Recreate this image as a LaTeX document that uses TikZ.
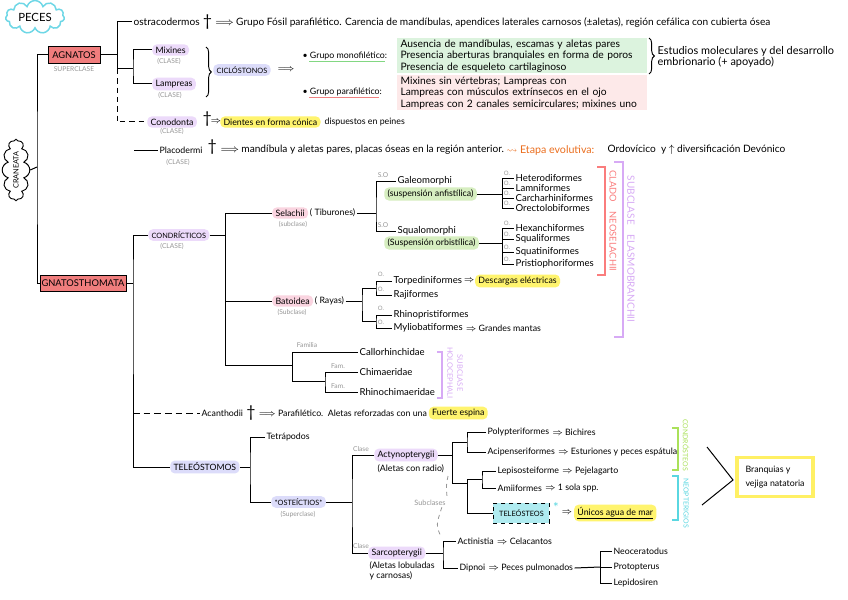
\documentclass[tikz,border=0pt]{standalone}
\usepackage{amssymb}
\usepackage{fontspec}
\setmainfont{Lato}
\usetikzlibrary{shapes.symbols,decorations.pathreplacing}
\definecolor{lav}{RGB}{236,218,250}
\definecolor{blu}{RGB}{220,220,250}
\definecolor{pnk}{RGB}{250,212,224}
\definecolor{grn}{RGB}{214,238,192}
\definecolor{yel}{RGB}{255,244,110}
\definecolor{yelb}{RGB}{255,240,100}
\definecolor{boxgrn}{RGB}{220,243,222}
\definecolor{boxpnk}{RGB}{253,233,233}
\definecolor{redbox}{RGB}{240,125,125}
\definecolor{gtxt}{RGB}{150,150,150}
\definecolor{cloudc}{RGB}{110,215,230}
\definecolor{orng}{RGB}{235,110,30}
\definecolor{neo}{RGB}{250,125,125}
\definecolor{elas}{RGB}{215,170,245}
\definecolor{condc}{RGB}{170,225,90}
\definecolor{neopc}{RGB}{90,215,225}
\definecolor{teleo}{RGB}{175,235,240}
\definecolor{ulg}{RGB}{130,215,130}
\definecolor{ulp}{RGB}{240,130,130}
\newcommand{\myimp}{$\Longrightarrow$}
\newcommand{\mydag}{{\fontsize{12}{12}\selectfont\textdagger}}
\begin{document}
\begin{tikzpicture}[x=0.75pt,y=-0.75pt,
 every node/.style={inner sep=1pt, font=\fontsize{6.6}{8}\selectfont},
 t/.style={anchor=west},
 fa/.style={font=\fontsize{7.6}{9}\selectfont},
 fb/.style={font=\fontsize{7.2}{8.5}\selectfont},
 lbl/.style={text=gtxt, font=\fontsize{5}{6}\selectfont},
 olbl/.style={text=gtxt, font=\fontsize{4.5}{5}\selectfont},
 hl/.style={fill=#1, rounded corners=3.5pt, inner xsep=2.5pt, inner ysep=1.8pt},
 ln/.style={line width=0.75pt},
 brc/.style={line width=0.7pt, decorate, decoration={brace, amplitude=4pt}},
]
\fill[white] (0,0) rectangle (848,599);
\useasboundingbox (0,0) rectangle (848,599);

% ---------- clouds and superclasses
\node[cloud, draw=cloudc, line width=1.1pt, cloud puffs=11, aspect=2, minimum width=44pt, minimum height=22pt, inner sep=0pt, font=\fontsize{8.5}{9}\selectfont] (peces) at (35,17) {PECES};
\node[cloud, draw, line width=0.7pt, cloud puffs=12, aspect=3, rotate=90, minimum width=46pt, minimum height=16pt, inner sep=0pt, font=\fontsize{5.5}{6}\selectfont] (cran) at (16,170) {CRANEATA};

\node[draw, fill=redbox, minimum width=39pt, minimum height=13pt, inner sep=1pt, font=\fontsize{7}{8}\selectfont] (agn) at (74,55) {AGNATOS};
\node[lbl] (agnl) at (74,69) {SUPERCLASE};
\node[draw, fill=redbox, minimum width=64pt, minimum height=12pt, inner sep=1pt, font=\fontsize{7}{8}\selectfont] (gna) at (83,283) {GNATOSTHOMATA};

\coordinate (tr) at (37,167);
\draw[ln] (agn.west) -| (tr) |- (gna.west);
\draw[ln] (cran.south) -- (tr);

% ---------- Agnatos
\node[t,fa] (ostra) at (132,22) {ostracodermos};
\node[t] (ostd) at (ostra.east) {\mydag};
\node[t,fa] (ostx) at (ostd.east) {\myimp\ Grupo Fósil parafilético. Carencia de mandíbulas, apendices laterales carnosos (±aletas), región cefálica con cubierta ósea};
\coordinate (a0) at (117,55);
\coordinate (a1) at (117,69);
\coordinate (a2) at (133,69);
\draw[ln] (agn.east) -- (a0);
\draw[ln] (ostra.west) -| (a1);
\draw[ln] (a1) -- (a2);
\node[t,hl=lav] (mix) at (152,50) {Mixines};
\node[lbl] (mixl) at (169,61) {(CLASE)};
\node[t,hl=lav] (lam) at (152,84) {Lampreas};
\node[lbl] (laml) at (170,95) {(CLASE)};
\draw[ln] (mix.west) -| (a2) |- (lam.west);

\node[t,hl=lav] (cono) at (147,122) {Conodonta};
\node[lbl] (conol) at (172,131) {(CLASE)};
\draw[ln, dashed, dash pattern=on 4pt off 3pt] (a1) |- (cono.west);
\node[t] (conod) at (201,119) {\mydag};
\node[t] (conoa) at (209,122) {$\Rightarrow$};
\node[t,hl=yel] (conoy) at (220,122) {Dientes en forma cónica};
\node[t] (conox) at (conoy.east) {\ dispuestos en peines};

\draw[brc] (206,47) -- (206,97);
\node[t,hl=blu, font=\fontsize{5.5}{6}\selectfont] (cicl) at (213,70) {CICLÓSTONOS};
\node[t] (cicla) at (276,70) {\myimp};

\node[t] (mono) at (301,56) {• Grupo monofilético:};
\draw[ulg, line width=1pt] ([xshift=6pt]mono.south west) -- ([xshift=-3pt]mono.south east);
\node[anchor=north west, fill=boxgrn, text width=182pt, minimum height=26pt, inner xsep=2.5pt, inner ysep=1pt, align=left, font=\fontsize{7.7}{8.6}\selectfont] (monob) at (397,38) {Ausencia de mandíbulas, escamas y aletas pares\\Presencia aberturas branquiales en forma de poros\\Presencia de esqueleto cartilaginoso};
\draw[brc] (649,38) -- (649,74);
\node[t, align=left, font=\fontsize{8.2}{7.6}\selectfont] (estu) at (656,57) {Estudios moleculares y del desarrollo\\embrionario (+ apoyado)};

\node[t] (para) at (301,92) {• Grupo parafilético:};
\draw[ulp, line width=1pt] ([xshift=6pt]para.south west) -- ([xshift=-3pt]para.south east);
\node[anchor=north west, fill=boxpnk, text width=182pt, minimum height=26pt, inner xsep=2.5pt, inner ysep=1pt, align=left, font=\fontsize{7.7}{8.6}\selectfont] (parab) at (397,75) {Mixines sin vértebras; Lampreas con\\Lampreas con músculos extrínsecos en el ojo\\Lampreas con 2 canales semicirculares; mixines uno};

% ---------- Placodermi
\coordinate (p0) at (134,150);
\node[t] (placo) at (158,150) {Placodermi};
\draw[ln] (p0) -- (placo.west);
\node[lbl] (placol) at (178,162) {(CLASE)};
\node[t] (placod) at (206,147) {\mydag};
\node[t,fa] (placox) at (219,150) {\myimp\ mandíbula y aletas pares, placas óseas en la región anterior.};
\node[t, text=orng, font=\fontsize{8}{9}\selectfont] (etapa) at (505,150) {$\rightsquigarrow$ Etapa evolutiva:};
\node[t,fa] (etapb) at (606,150) {Ordovícico\ \ y $\uparrow$ diversificación Devónico};

% ---------- Gnathostomata
\coordinate (g1) at (133,283);
\draw[ln] (gna.east) -- (g1);
\node[t,hl=lav, font=\fontsize{5.5}{6}\selectfont] (cond) at (148,235) {CONDRÍCTICOS};
\node[lbl] (condl) at (172,246) {(CLASE)};
\node[t,hl=blu, font=\fontsize{6.5}{7}\selectfont] (teleos) at (170,467) {TELEÓSTOMOS};
\draw[ln] (cond.west) -| (g1) |- (teleos.west);
\coordinate (g2) at (133,413);
\node[t] (acan) at (200,413) {Acanthodii};
\draw[ln, dashed, dash pattern=on 5pt off 3pt] (g2) -- (acan.west);
\node[t] (acand) at (acan.east) {\mydag};
\node[t] (acanx) at (acand.east) {\myimp\ Parafilético.\ \ Aletas reforzadas con una};
\node[t,hl=yel] (acany) at (acanx.east) {Fuerte espina};

% ---------- Condricticos
\coordinate (c1) at (225,235);
\coordinate (c2) at (225,365);
\coordinate (h0) at (292,365);
\draw[ln] (cond.east) -- (c1);
\node[t,hl=pnk] (sel) at (272,213) {Selachii};
\node[t] (selt) at (sel.east) {( Tiburones)};
\node[lbl] (sell) at (293,224) {(subclase)};
\draw[ln] (sel.west) -| (c2) -- (h0);
\node[t,hl=pnk] (bat) at (272,301) {Batoidea};
\node[t] (batt) at (bat.east) {( Rayas)};
\node[lbl] (batl) at (292,312) {(Subclase)};
\draw[ln] (c1) |- (bat.west);

% Selachii
\coordinate (s1) at (376,213);
\draw[ln] (selt.east) -- (s1);
\node[t,fb] (galeo) at (396,181) {Galeomorphi};
\node[t,fb] (squa) at (396,231) {Squalomorphi};
\draw[ln] (galeo.west) -| (s1) |- (squa.west);
\node[lbl] (so1) at (383,175) {S.O};
\node[lbl] (so2) at (383,225) {S.O};
\node[t,hl=grn] (anf) at (384,194) {(suspensión anfistílica)};
\node[t,hl=grn] (orb) at (384,243) {(Suspensión orbistílica)};
\coordinate (o1) at (502,194);
\coordinate (o2) at (502,243);
\draw[ln] (anf.east) -- (o1);
\draw[ln] (orb.east) -- (o2);
\foreach \n/\y/\txt in {oa/178/Heterodiformes, ob/188/Lamniformes, oc/198/Carcharhiniformes, od/208/Orectolobiformes}{
  \node[t,fb] (\n) at (514,\y) {\txt};
  \node[olbl] (\n l) at (507,\y-5) {O.};
  \draw[ln] (o1) |- (\n.west);
}
\foreach \n/\y/\txt in {oe/228/Hexanchiformes, of/239/Squaliformes, og/252/Squatiniformes, oh/264/Pristiophoriformes}{
  \node[t,fb] (\n) at (514,\y) {\txt};
  \node[olbl] (\n l) at (507,\y-5) {O.};
  \draw[ln] (o2) |- (\n.west);
}

% Batoidea
\coordinate (b1) at (362,301);
\draw[ln] (batt.east) -- (b1);
\coordinate (b2) at (376,288);
\coordinate (b3) at (376,321);
\draw[ln] (b2) -| (b1) |- (b3);
\node[t,fb] (torp) at (392,281) {Torpediniformes};
\node[t,fb] (raji) at (392,295) {Rajiformes};
\draw[ln] (torp.west) -| (b2) |- (raji.west);
\node[t,fb] (rhin) at (392,315) {Rhinopristiformes};
\node[t,fb] (myli) at (392,328) {Myliobatiformes};
\draw[ln] (rhin.west) -| (b3) |- (myli.west);
\node[olbl] (ol1) at (381,274) {O.};
\node[olbl] (ol2) at (381,289) {O.};
\node[olbl] (ol3) at (381,308) {O.};
\node[olbl] (ol4) at (381,322) {O.};
\node[t, inner sep=0pt] (torpa) at (torp.east) {$\Rightarrow$};
\node[t,hl=yel] (torpy) at (torpa.east) {Descargas eléctricas};
\node[t] (myla) at (myli.east) {$\Rightarrow$ Grandes mantas};

% Holocephali
\coordinate (h1) at (292,381);
\coordinate (h2) at (325,381);
\node[t,fb] (call) at (358,352) {Callorhinchidae};
\node[t,fb] (chim) at (358,372) {Chimaeridae};
\node[t,fb] (rhc) at (358,392) {Rhinochimaeridae};
\draw[ln] (call.west) -| (h1) -- (h2);
\draw[ln] (chim.west) -| (h2) |- (rhc.west);
\node[lbl] (fam0) at (307,345) {Familia};
\node[lbl] (fam1) at (338,366) {Fam.};
\node[lbl] (fam2) at (338,386) {Fam.};

% brackets right
\draw[neo, line width=0.8pt] (597,167) -- (605,167) -- (605,275) -- (597,275);
\node[text=neo, rotate=-90, font=\fontsize{7}{8}\selectfont] (neot) at (613,221) {CLADO\quad NEOSELACHII};
\draw[elas, line width=0.8pt] (614,162) -- (623,162) -- (623,337) -- (614,337);
\node[text=elas, rotate=-90, font=\fontsize{7.5}{8}\selectfont] (elast) at (631,249) {SUBCLASE\quad ELASMOBRANCHII};
\draw[elas, line width=0.8pt] (437,352) -- (442,352) -- (442,398) -- (437,398);
\node[text=elas, rotate=-90, align=center, font=\fontsize{5.6}{7.5}\selectfont] (holot) at (455,373) {SUBCLASE\\HOLOCEPHALI};

% ---------- Teleostomos
\coordinate (t1) at (250,467);
\draw[ln] (teleos.east) -- (t1);
\node[t] (tetra) at (265,437) {Tetrápodos};
\node[t,hl=blu, font=\fontsize{5.5}{6}\selectfont] (oste) at (271,502) {*OSTEÍCTIOS*};
\node[lbl] (ostel) at (298,514) {(Superclase)};
\draw[ln] (tetra.west) -| (t1) |- (oste.west);
\coordinate (t2) at (352,502);
\draw[ln] (oste.east) -- (t2);
\node[t,hl=lav] (acty) at (374,455) {Actynopterygii};
\node[t] (actyr) at (376,469) {(Aletas con radio)};
\node[t,hl=lav] (sarc) at (368,553) {Sarcopterygii};
\node[anchor=north west, align=left, font=\fontsize{6.6}{7.5}\selectfont] (sarcr) at (368,560) {(Aletas lobuladas\\y carnosas)};
\draw[ln] (acty.west) -| (t2) |- (sarc.west);
\node[lbl] (cl1) at (361,449) {Clase};
\node[lbl] (cl2) at (361,546) {Clase};

% Actinopterygii
\coordinate (ac0) at (452,455);
\draw[ln] (acty.east) -- (ac0);
\coordinate (ac1) at (452,442);
\coordinate (ac2) at (452,483);
\coordinate (ac3) at (467,442);
\coordinate (ac4) at (467,483);
\draw[ln] (ac3) -- (ac1) -- (ac2) -- (ac4);
\node[t] (poly) at (486,432) {Polypteriformes};
\node[t] (polyx) at (poly.east) {$\Rightarrow$ Bichires};
\node[t] (acip) at (486,452) {Acipenseriformes};
\node[t] (acipx) at (acip.east) {$\Rightarrow$ Esturiones y peces espátula};
\draw[ln] (poly.west) -| (ac3) |- (acip.west);
\coordinate (ac5) at (467,479);
\coordinate (ac6) at (482,479);
\node[t, draw, dashed, fill=teleo, minimum width=42pt, minimum height=15pt, line width=0.7pt, font=\fontsize{5.5}{6}\selectfont] (tele) at (493,513) {TELEÓSTEOS};
\draw[ln] (ac6) -- (ac5) |- (tele.west);
\node[t] (lepi) at (496,471) {Lepisosteiforme};
\node[t] (lepix) at (lepi.east) {$\Rightarrow$ Pejelagarto};
\node[t] (amii) at (496,488) {Amiiformes};
\node[t] (amiix) at (amii.east) {$\Rightarrow$ 1 sola spp.};
\draw[ln] (lepi.west) -| (ac6) |- (amii.west);
\node[text=neopc, font=\fontsize{10}{10}\selectfont] (ast) at (556,507) {*};
\node[t] (telea) at (560,513) {$\Rightarrow$};
\node[t,hl=yel] (teley) at (telea.east) {\underline{Únicos agua de mar}};

\node[lbl, font=\fontsize{5.5}{6}\selectfont] (subc) at (430,503) {Subclases};
\coordinate (sb1) at (448,476);
\coordinate (sb2) at (441,537);
\draw[gtxt, line width=0.6pt, dash pattern=on 3pt off 3pt] (sb1) .. controls (446,486) .. (subc.north east);
\draw[gtxt, line width=0.6pt, dash pattern=on 3pt off 3pt] ([xshift=-4pt]subc.south east) .. controls (436,525) .. (sb2);

% Sarcopterygii
\coordinate (t3) at (443,553);
\draw[ln] (sarc.east) -- (t3);
\node[t] (actin) at (456,541) {Actinistia};
\node[t] (actinx) at (actin.east) {$\Rightarrow$ Celacantos};
\node[t] (dip) at (458,568) {Dipnoi};
\node[t] (dipx) at (dip.east) {$\Rightarrow$ Peces pulmonados};
\draw[ln] (actin.west) -| (t3) |- (dip.west);
\coordinate (t4) at (600,567);
\draw[ln] (dipx.east) -- (t4);
\node[t] (neoc) at (612,551) {Neoceratodus};
\node[t] (prot) at (612,567) {Protopterus};
\node[t] (lepd) at (612,583) {Lepidosiren};
\draw[ln] (neoc.west) -| (t4) |- (lepd.west);
\draw[ln] (t4) -- (prot.west);

% brackets bottom right
\draw[condc, line width=0.8pt] (672,428) -- (678,428) -- (678,470) -- (672,470);
\node[text=condc, rotate=-90, font=\fontsize{5.2}{6}\selectfont] (condt) at (686,445) {CONDRÓSTEOS};
\draw[neopc, line width=0.8pt] (672,476) -- (678,476) -- (678,520) -- (672,520);
\node[text=neopc, rotate=-90, font=\fontsize{5.2}{6}\selectfont] (neopt) at (686,503) {NEOPTERIGIOS};

\coordinate (gt1) at (707,447);
\coordinate (gt2) at (733,480);
\coordinate (gt3) at (702,505);
\draw[ln] (gt1) -- (gt2) -- (gt3);
\node[draw=yelb, line width=2.5pt, align=left, minimum width=57pt, minimum height=29pt, inner sep=3pt, font=\fontsize{6.6}{11}\selectfont] (bv) at (775,477) {Branquias y\\vejiga natatoria};
\end{tikzpicture}
\end{document}
